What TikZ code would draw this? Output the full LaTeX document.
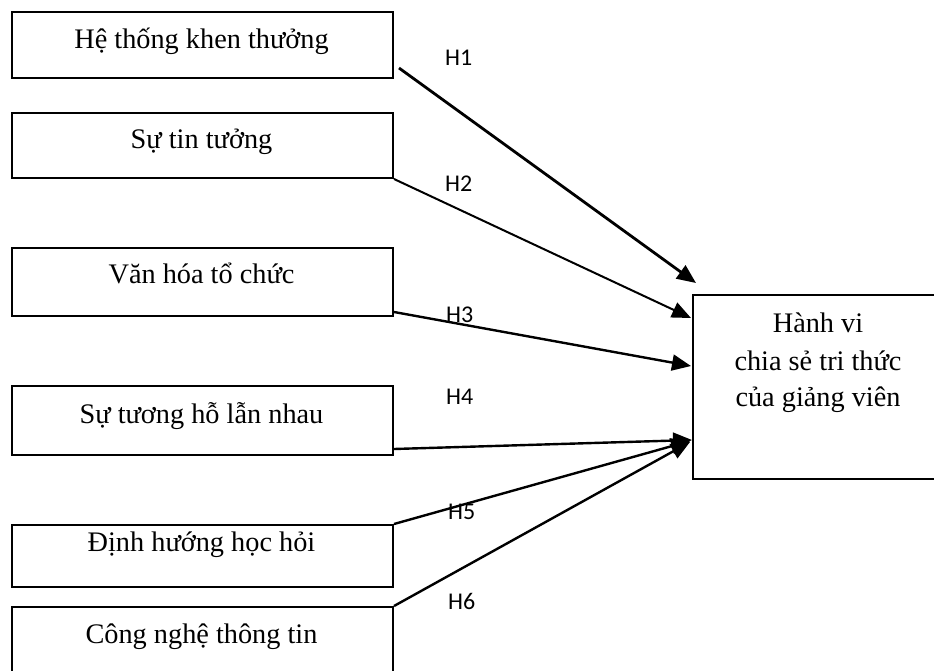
\documentclass[tikz,border=0pt]{standalone}
\usepackage{fontspec}
\setmainfont{Liberation Serif}
\newfontfamily\hfont{Carlito}
\usetikzlibrary{arrows.meta}
\begin{document}
\begin{tikzpicture}[x=1pt,y=-1pt,
  leftbox/.style={draw, line width=2pt, minimum width=381pt, inner sep=0pt, anchor=north west},
  rightbox/.style={minimum width=250pt, minimum height=184pt, inner sep=0pt, anchor=north west},
  boxtext/.style={anchor=base, inner sep=0pt, font=\fontsize{28.3}{33}\selectfont},
  hlabel/.style={anchor=base west, inner sep=0pt, font=\hfont\fontsize{24}{28}\selectfont},
  conn/.style={line width=2.4pt, -{Triangle[length=19pt,width=16pt]}}]
\useasboundingbox (0,0) rectangle (934,670);
% left boxes
\node[leftbox, minimum height=66pt] (b1) at (11,11) {};
\node[leftbox, minimum height=65pt] (b2) at (11,112) {};
\node[leftbox, minimum height=68pt] (b3) at (11,247) {};
\node[leftbox, minimum height=69pt] (b4) at (11,385) {};
\node[leftbox, minimum height=62pt] (b5) at (11,524) {};
\node[leftbox, minimum height=80pt] (b6) at (11,606) {};
\node[boxtext] (t1) at (201.5,48) {Hệ thống khen thưởng};
\node[boxtext] (t2) at (201.5,148) {Sự tin tưởng};
\node[boxtext] (t3) at (201.5,283) {Văn hóa tổ chức};
\node[boxtext] (t4) at (201.5,423) {Sự tương hỗ lẫn nhau};
\node[boxtext] (t5) at (201.5,551) {Định hướng học hỏi};
\node[boxtext] (t6) at (201.5,643) {Công nghệ thông tin};
% right box (its right side runs past the edge of the picture)
\node[rightbox] (rb) at (693,295) {};
\draw[line width=2pt] ([xshift=20pt]rb.north east) -- (rb.north west) -- (rb.south west) -- ([xshift=20pt]rb.south east);
\node[boxtext] (r1) at (818,332) {Hành vi};
\node[boxtext] (r2) at (818,370) {chia sẻ tri thức};
\node[boxtext] (r3) at (818,406) {của giảng viên};
% endpoints
\coordinate (s1) at ([xshift=5pt,yshift=11pt]b1.south east);
\coordinate (s3) at ([yshift=5pt]b3.south east);
\coordinate (s4) at ([yshift=7pt]b4.south east);
\coordinate (e1) at ([xshift=3pt,yshift=12pt]rb.north west);
\coordinate (e2) at ([xshift=-2pt,yshift=-23pt]rb.north west);
\coordinate (e3) at ([xshift=-2pt,yshift=-71pt]rb.north west);
\coordinate (e4) at ([xshift=-1pt,yshift=-145pt]rb.north west);
\coordinate (e5) at ([xshift=-3pt,yshift=-146pt]rb.north west);
\coordinate (e6) at ([xshift=-3pt,yshift=-147pt]rb.north west);
% connectors
\draw[conn, line width=2.8pt] (s1) -- (e1);
\draw[conn, line width=2pt] (b2.south east) -- (e2);
\draw[conn] (s3) -- (e3);
\draw[conn] (s4) -- (e4);
\draw[conn] (b5.north east) -- (e5);
\draw[conn] (b6.north east) -- (e6);
% labels
\node[hlabel] (h1) at (445,65) {H1};
\node[hlabel] (h2) at (445,191) {H2};
\node[hlabel] (h3) at (446,322) {H3};
\node[hlabel] (h4) at (446,404) {H4};
\node[hlabel] (h5) at (448,519) {H5};
\node[hlabel] (h6) at (448,609) {H6};
\end{tikzpicture}
\end{document}
